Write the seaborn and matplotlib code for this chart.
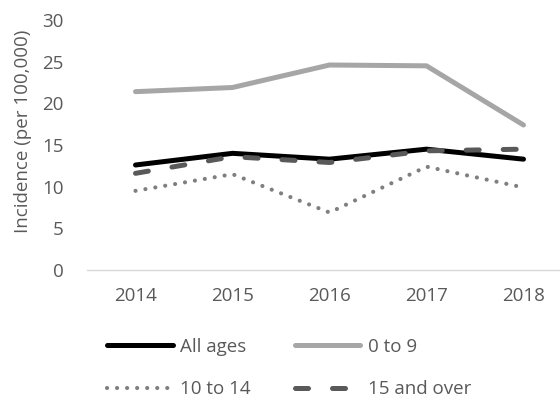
import matplotlib
matplotlib.use("Agg")
import matplotlib.pyplot as plt
import seaborn as sns
import pandas as pd

years = ["2014", "2015", "2016", "2017", "2018"]
all_ages = [12.6, 14.0, 13.3, 14.5, 13.3]
age_0_9 = [21.4, 21.9, 24.6, 24.5, 17.4]
age_10_14 = [9.5, 11.5, 6.9, 12.4, 9.9]
age_15_plus = [11.6, 13.6, 12.9, 14.3, 14.5]
series_names = ["All ages", "0 to 9", "10 to 14", "15 and over"]
y_ticks = [0, 5, 10, 15, 20, 25, 30]

sns.set_theme(style="white")
plt.rcParams["font.family"] = ["Open Sans", "DejaVu Sans"]
TEXT = "#595959"

fig = plt.figure(figsize=(5.6, 4.01), dpi=100)
ax = fig.add_axes([87 / 560, 1 - 270 / 401, 485 / 560, 250 / 401])

pos = list(range(len(years)))
styles = [
    dict(color="#000000", lw=3.6, linestyle="-", solid_capstyle="round"),
    dict(color="#A6A6A6", lw=3.6, linestyle="-", solid_capstyle="round"),
    dict(color="#7F7F7F", lw=3.0, linestyle=(0, (0.01, 2.4)), dash_capstyle="round"),
    dict(color="#595959", lw=3.6, linestyle=(0, (2.6, 4.8)), dash_capstyle="round"),
]
values = [all_ages, age_0_9, age_10_14, age_15_plus]

handles = []
for name, vals, st in zip(series_names, values, styles):
    df = pd.DataFrame({"pos": pos, "val": vals})
    sns.lineplot(data=df, x="pos", y="val", ax=ax, label=name, **st)
    handles.append(ax.get_lines()[-1])

if ax.get_legend() is not None:
    ax.get_legend().remove()

ax.set_xlim(-0.5, len(years) - 0.5)
ax.set_ylim(0, 30)
ax.set_xticks(pos)
ax.set_xticklabels(years)
ax.set_yticks(y_ticks)
ax.set_xlabel("")
ax.set_ylabel("")
ax.tick_params(axis="both", length=0, labelsize=13.5, colors=TEXT)
ax.tick_params(axis="y", pad=17)
ax.tick_params(axis="x", pad=12)
for side in ["left", "right", "top"]:
    ax.spines[side].set_visible(False)
ax.spines["bottom"].set_color("#D9D9D9")
ax.spines["bottom"].set_linewidth(1.0)
ax.grid(False)

fig.text(23 / 560, 1 - 131 / 401, "Incidence (per 100,000)", rotation=90,
         ha="center", va="center", fontsize=13.5, color=TEXT)

order = [0, 2, 1, 3]
leg = fig.legend([handles[i] for i in order], [series_names[i] for i in order],
                 ncol=2, loc="upper left", bbox_to_anchor=(107 / 560, 1 - 338 / 401),
                 frameon=False, fontsize=13.5, handlelength=3.5, handletextpad=0.4,
                 columnspacing=2.35, labelspacing=1.3, borderpad=0, borderaxespad=0)
for t in leg.get_texts():
    t.set_color(TEXT)

fig.savefig("out.png", dpi=100)
